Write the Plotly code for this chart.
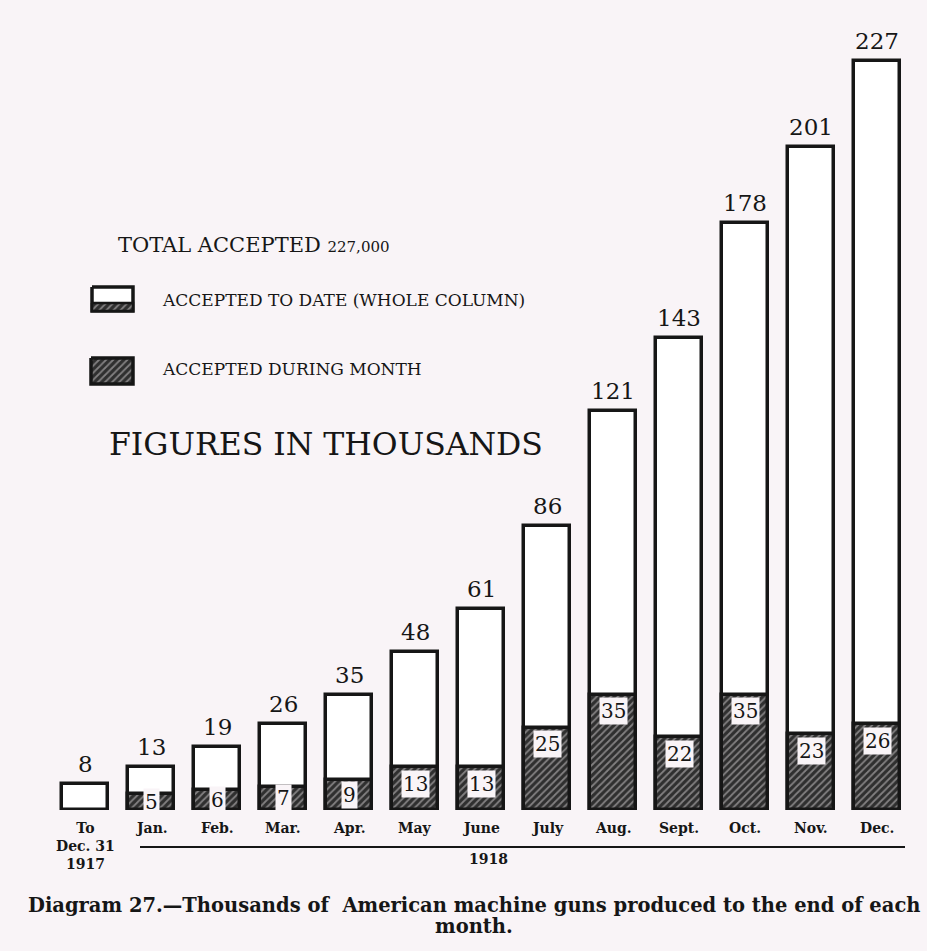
import plotly.graph_objects as go

# Machine guns accepted, in thousands
categories = ["To Dec. 31 1917", "Jan.", "Feb.", "Mar.", "Apr.", "May", "June",
              "July", "Aug.", "Sept.", "Oct.", "Nov.", "Dec."]
tick_labels = ["To<br>Dec. 31<br>1917", "Jan.", "Feb.", "Mar.", "Apr.", "May", "June",
               "July", "Aug.", "Sept.", "Oct.", "Nov.", "Dec."]
accepted_to_date = [8, 13, 19, 26, 35, 48, 61, 86, 121, 143, 178, 201, 227]
accepted_during_month = [None, 5, 6, 7, 9, 13, 13, 25, 35, 22, 35, 23, 26]

PAPER = "#f9f4f7"
INK = "#161616"
SERIF = "DejaVu Serif, serif"

W, H = 927, 951
ML, MR, MT, MB = 52, 17, 18, 141
PW, PH = W - ML - MR, H - MT - MB


def px(x):
    return (x - ML) / PW


def py(y):
    return (H - MB - y) / PH


xs = list(range(len(categories)))
month_x = [x for x, v in zip(xs, accepted_during_month) if v is not None]
month_v = [v for v in accepted_during_month if v is not None]

hatch = dict(shape="/", fgcolor="#d6d2d4", bgcolor="#2f2f2f", size=5, solidity=0.35)

fig = go.Figure()

# Whole column: accepted to date
fig.add_trace(go.Bar(
    x=xs, y=accepted_to_date, width=0.7,
    marker=dict(color="white", line=dict(color=INK, width=3.5)),
    showlegend=False, hoverinfo="skip",
))

# Hatched lower part: accepted during the month
fig.add_trace(go.Bar(
    x=month_x, y=month_v, width=0.7,
    marker=dict(color="#2f2f2f", pattern=hatch, line=dict(color=INK, width=3.5)),
    showlegend=False, hoverinfo="skip",
))

annotations = []

# Totals above each column
for x, v in zip(xs, accepted_to_date):
    annotations.append(dict(
        x=x, y=v, xref="x", yref="y", text=str(v), showarrow=False,
        yanchor="bottom", yshift=5, font=dict(family=SERIF, size=23, color=INK),
    ))

# Monthly figures inside the hatched part
for x, v in zip(month_x, month_v):
    annotations.append(dict(
        x=x, y=max(v / 2, v - 5), xref="x", yref="y", text=str(v), showarrow=False,
        yanchor="middle", bgcolor=PAPER, borderpad=1,
        font=dict(family=SERIF, size=20, color=INK),
    ))

# Category labels under the columns
for x, t in zip(xs, tick_labels):
    annotations.append(dict(
        x=x, y=py(818), xref="x", yref="paper", text="<b>" + t + "</b>",
        showarrow=False, yanchor="top",
        font=dict(family=SERIF, size=14, color=INK),
    ))

annotations += [
    dict(x=px(488), y=py(859), xref="paper", yref="paper", text="<b>1918</b>",
         showarrow=False, yanchor="middle",
         font=dict(family=SERIF, size=14, color=INK)),
    dict(x=px(116), y=py(245), xref="paper", yref="paper",
         text="TOTAL ACCEPTED <span style='font-size:15px'>227,000</span>",
         showarrow=False, xanchor="left", yanchor="middle",
         font=dict(family=SERIF, size=21, color=INK)),
    dict(x=px(160), y=py(300), xref="paper", yref="paper",
         text="ACCEPTED TO DATE (WHOLE COLUMN)",
         showarrow=False, xanchor="left", yanchor="middle",
         font=dict(family=SERIF, size=17, color=INK)),
    dict(x=px(160), y=py(369), xref="paper", yref="paper",
         text="ACCEPTED DURING MONTH",
         showarrow=False, xanchor="left", yanchor="middle",
         font=dict(family=SERIF, size=17, color=INK)),
    dict(x=px(107), y=py(444), xref="paper", yref="paper",
         text="FIGURES IN THOUSANDS",
         showarrow=False, xanchor="left", yanchor="middle",
         font=dict(family=SERIF, size=31.5, color=INK)),
    dict(x=px(474), y=py(905), xref="paper", yref="paper",
         text="<b>Diagram 27.—Thousands of  American machine guns produced to the end of each</b>",
         showarrow=False, yanchor="middle",
         font=dict(family=SERIF, size=19.5, color=INK)),
    dict(x=px(474), y=py(926), xref="paper", yref="paper",
         text="<b>month.</b>",
         showarrow=False, yanchor="middle",
         font=dict(family=SERIF, size=19.5, color=INK)),
]

# Legend swatches drawn on an overlay axis measured in page pixels
def box(x0, y0, x1, y1):
    return [x0, x1, x1, x0, x0], [y0, y0, y1, y1, y0]

sx, sy = box(92, 287, 133, 311)
fig.add_trace(go.Scatter(x=sx, y=sy, xaxis="x2", yaxis="y2", mode="lines",
                         fill="toself", fillcolor="white",
                         line=dict(color=INK, width=3.5),
                         showlegend=False, hoverinfo="skip"))
sx, sy = box(92, 303, 133, 311)
fig.add_trace(go.Scatter(x=sx, y=sy, xaxis="x2", yaxis="y2", mode="lines",
                         fill="toself", fillcolor="#2f2f2f", fillpattern=hatch,
                         line=dict(color=INK, width=2.5),
                         showlegend=False, hoverinfo="skip"))
sx, sy = box(91, 358, 133, 384)
fig.add_trace(go.Scatter(x=sx, y=sy, xaxis="x2", yaxis="y2", mode="lines",
                         fill="toself", fillcolor="#2f2f2f", fillpattern=hatch,
                         line=dict(color=INK, width=3.5),
                         showlegend=False, hoverinfo="skip"))

fig.update_layout(
    width=W, height=H,
    margin=dict(l=ML, r=MR, t=MT, b=MB),
    paper_bgcolor=PAPER, plot_bgcolor=PAPER,
    barmode="overlay", bargap=0,
    xaxis=dict(range=[-0.5, len(categories) - 0.5], visible=False, fixedrange=True),
    yaxis=dict(range=[0, 240], visible=False, fixedrange=True),
    xaxis2=dict(range=[ML, W - MR], overlaying="x", visible=False),
    yaxis2=dict(range=[H - MB, MT], overlaying="y", visible=False),
    annotations=annotations,
    shapes=[dict(type="line", xref="paper", yref="paper",
                 x0=px(140), x1=px(905), y0=py(847), y1=py(847),
                 line=dict(color=INK, width=2))],
)

fig.write_html("out.html")
